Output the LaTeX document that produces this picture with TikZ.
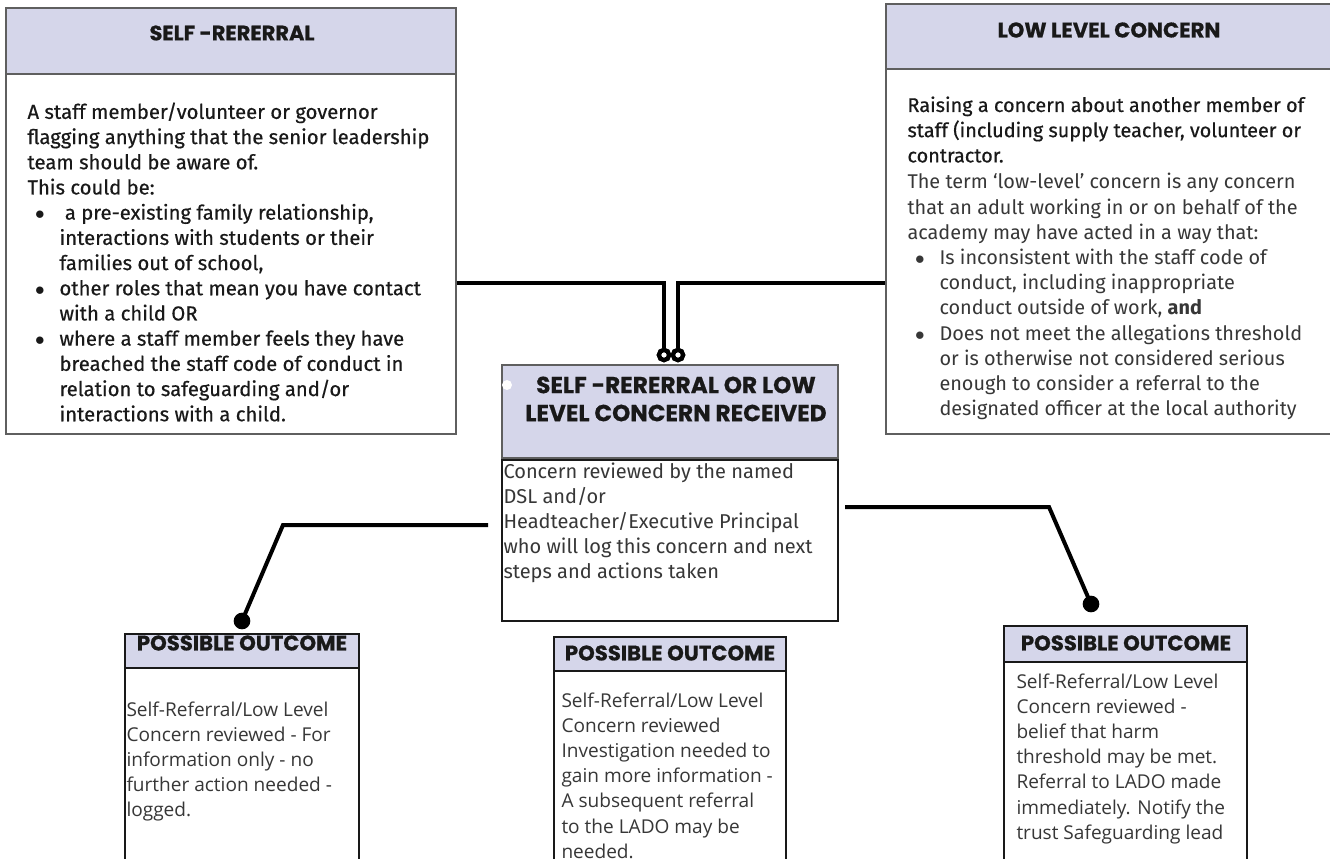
\documentclass[tikz,border=0pt]{standalone}
\usepackage{fontspec}
\setmainfont{Fira Sans}
\newfontfamily\headfont{Poppins}[BoldFeatures={FakeBold=0.6}]
\newfontfamily\medfont{Fira Sans}[FakeBold=0.5]
\newfontfamily\outfont{Open Sans}
\usetikzlibrary{fit}

\definecolor{hdrfill}{RGB}{213,214,234}
\definecolor{edge}{RGB}{95,95,95}
\definecolor{ink}{RGB}{25,25,25}
\definecolor{softink}{RGB}{55,55,55}

\newcommand{\bul}{\hspace*{24pt}\llap{$\bullet$\hspace{11pt}}}
\newcommand{\ind}{\hspace*{24pt}}

\tikzset{every picture/.style={line width=0.75pt}}
\tikzset{
  hdrbox/.style={draw=edge, fill=hdrfill, line width=1.2pt, inner sep=0pt},
  bodybox/.style={draw=edge, fill=white, line width=1.2pt, inner sep=0pt},
  link/.style={line width=3pt},
  ring/.style={circle, draw, line width=3.2pt, fill=white, inner sep=0pt, minimum size=7.6pt},
  dot/.style={circle, fill, inner sep=0pt, minimum size=12.5pt},
  notch/.style={circle, fill=white, inner sep=0pt, minimum size=7.5pt},
  title/.style={inner sep=0pt, text=ink, font=\headfont\bfseries\fontsize{15.9}{18}\selectfont},
  toptext/.style={anchor=north west, inner sep=0pt, align=left, text=ink, font=\fontsize{15}{18.9}\selectfont},
  outtext/.style={anchor=north west, inner sep=0pt, align=left, text=softink, font=\outfont\fontsize{14.3}{18.9}\selectfont}
}

\begin{document}
\begin{tikzpicture}[x=0.75pt,y=0.75pt,yscale=-1,xscale=1]
    \useasboundingbox (0,0) rectangle (1330,859);
    % boxes
    \node [hdrbox, fit={(6,8) (456,74)}] (selfhdr) {};
    \node [bodybox, fit={(6,74) (456,434)}] (selfbody) {};
    \node [hdrbox, fit={(886,4) (1334,69)}] (lowhdr) {};
    \node [bodybox, fit={(886,69) (1334,434)}] (lowbody) {};
    \node [hdrbox, fit={(502,365) (838,458)}] (rechdr) {};
    \node [bodybox, draw=ink, fit={(502,460) (838,621)}] (recbody) {};
    \node [hdrbox, draw=ink, fit={(125,634) (359,668)}] (outLhdr) {};
    \node [bodybox, draw=ink, fit={(125,668) (359,875)}] (outLbody) {};
    \node [hdrbox, draw=ink, fit={(554,637) (786,671)}] (outMhdr) {};
    \node [bodybox, draw=ink, fit={(554,671) (786,875)}] (outMbody) {};
    \node [hdrbox, draw=ink, fit={(1004,626) (1247,662)}] (outRhdr) {};
    \node [bodybox, draw=ink, fit={(1004,662) (1247,875)}] (outRbody) {};
    \node [notch] (gap) at (507,385) {};

    % titles
    \node [title, font=\headfont\bfseries\fontsize{15.7}{18}\selectfont] (selftitle) at (232,33) {SELF -RERERRAL};
    \node [title] (lowtitle) at (1109,30) {LOW LEVEL CONCERN};
    \node [title, align=center, font=\headfont\bfseries\fontsize{17.4}{21}\selectfont] (rectitle) at (676,399) {SELF -RERERRAL OR LOW\\LEVEL CONCERN RECEIVED};
    \node [title] (outLtitle) at (242,643) {POSSIBLE OUTCOME};
    \node [title] (outMtitle) at (670,653) {POSSIBLE OUTCOME};
    \node [title] (outRtitle) at (1126,643) {POSSIBLE OUTCOME};

    % body texts
    \node [toptext, font=\medfont\fontsize{15.2}{18.9}\selectfont] (selftext) at (27,102) {A staff member/volunteer or governor\\
      flagging anything that the senior leadership\\
      team should be aware of.\\
      This could be:\\
      \bul\ a pre-existing family relationship,\\
      \ind interactions with students or their\\
      \ind families out of school,\\
      \bul other roles that mean you have contact\\
      \ind with a child OR\\
      \bul where a staff member feels they have\\
      \ind breached the staff code of conduct in\\
      \ind relation to safeguarding and/or\\
      \ind interactions with a child.};
    \node [toptext, font=\medfont\fontsize{14.9}{18.9}\selectfont] (lowtextA) at (907,96) {Raising a concern about another member of\\
      staff (including supply teacher, volunteer or\\
      contractor.};
    \node [toptext, text=softink, font=\fontsize{14.9}{18.9}\selectfont] (lowtextB) at (907,173) {The term ‘low-level’ concern is any concern\\
      that an adult working in or on behalf of the\\
      academy may have acted in a way that:\\
      \bul Is inconsistent with the staff code of\\
      \ind conduct, including inappropriate\\
      \ind conduct outside of work, \textbf{and}\\
      \bul Does not meet the allegations threshold\\
      \ind or is otherwise not considered serious\\
      \ind enough to consider a referral to the\\
      \ind designated officer at the local authority};
    \node [toptext, text=softink] (rectext) at (503,462) {Concern reviewed by the named\\
      DSL and/or\\
      Headteacher/Executive Principal\\
      who will log this concern and next\\
      steps and actions taken};
    \node [outtext] (outLtext) at (126,701) {Self-Referral/Low Level\\
      Concern reviewed - For\\
      information only - no\\
      further action needed -\\
      logged.};
    \node [outtext] (outMtext) at (561,692) {Self-Referral/Low Level\\
      Concern reviewed\\
      Investigation needed to\\
      gain more information -\\
      A subsequent referral\\
      to the LADO may be\\
      needed.};
    \node [outtext] (outRtext) at (1016,673) {Self-Referral/Low Level\\
      Concern reviewed -\\
      belief that harm\\
      threshold may be met.\\
      Referral to LADO made\\
      immediately. Notify the\\
      trust Safeguarding lead};

    % connectors
    \coordinate (toprow) at (0,283);
    \node [ring] (ringL) at (664,355) {};
    \node [ring] (ringR) at (678,355) {};
    \draw [link] (selfbody.east |- toprow) -| (ringL.north);
    \draw [link] (lowbody.west |- toprow) -| (ringR.north);
    \node [ring] at (ringL) {};
    \node [ring] at (ringR) {};

    \coordinate (leftend) at (488,525);
    \coordinate (leftknee) at (283,525);
    \node [dot] (dotL) at (242,621) {};
    \draw [link] (leftend) -- (leftknee) -- (dotL.center);

    \coordinate (rightend) at (845,507);
    \coordinate (rightknee) at (1049,507);
    \node [dot] (dotR) at (1091,604) {};
    \draw [link] (rightend) -- (rightknee) -- (dotR.center);
\end{tikzpicture}
\end{document}
